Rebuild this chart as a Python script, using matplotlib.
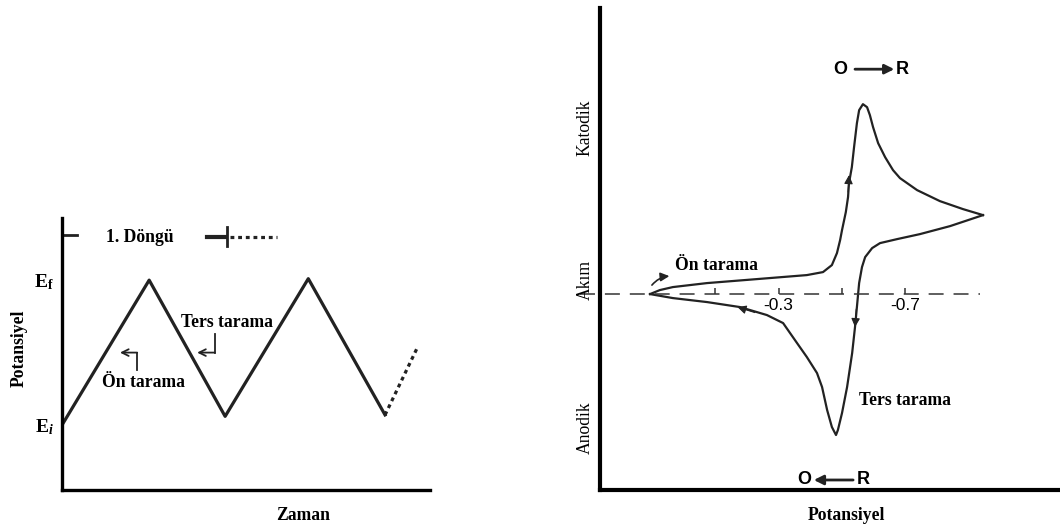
import matplotlib
matplotlib.use('Agg')
import matplotlib.pyplot as plt

plt.rcParams['font.family'] = ['Liberation Serif', 'DejaVu Serif']
plt.rcParams['mathtext.fontset'] = 'custom'
plt.rcParams['mathtext.rm'] = 'Liberation Serif'
plt.rcParams['mathtext.bf'] = 'Liberation Serif:bold'
plt.rcParams['mathtext.it'] = 'Liberation Serif:bold:italic'

# left panel: triangular potential sweep vs. time
t_sweep = [0, 1.09, 2.04, 3.08, 4.04]
E_sweep = [0, 1.0, 0.06, 1.01, 0.07]
t_next = [4.04, 4.44]          # start of the next cycle (dotted)
E_next = [0.07, 0.53]
E_levels = [0, 1.0]
E_labels = [r'$\mathbf{E}_{i}$', r'$\mathbf{E}_{\mathbf{f}}$']

# right panel: cyclic voltammogram (potential in V, current arbitrary)
E_fwd = [0.106, 0.075, 0.034, -0.074, -0.232, -0.389, -0.440, -0.468,
         -0.484, -0.494, -0.500, -0.512, -0.519, -0.522, -0.531, -0.538,
         -0.547, -0.554, -0.566, -0.579, -0.588, -0.598, -0.614, -0.636,
         -0.661, -0.683, -0.737, -0.809, -0.882, -0.945]
i_fwd = [0.0, 0.4, 0.7, 1.1, 1.5, 1.9, 2.2, 2.9,
         4.1, 5.4, 6.4, 8.2, 9.7, 11.1, 12.7, 14.7,
         17.1, 18.4, 19.0, 18.7, 17.9, 16.7, 15.1, 13.7,
         12.4, 11.6, 10.4, 9.3, 8.5, 7.9]
E_rev = [-0.945, -0.841, -0.746, -0.674, -0.620, -0.595, -0.573, -0.563,
         -0.554, -0.547, -0.541, -0.532, -0.516, -0.500, -0.487, -0.481,
         -0.468, -0.453, -0.437, -0.421, -0.389, -0.358, -0.336, -0.314,
         -0.263, -0.178, -0.074, 0.034, 0.106]
i_rev = [7.9, 6.8, 6.0, 5.5, 5.1, 4.6, 3.7, 2.7,
         1.1, -1.3, -3.3, -5.9, -9.3, -11.9, -13.6, -14.1,
         -13.3, -11.6, -9.3, -7.9, -6.3, -4.9, -3.9, -2.9,
         -2.1, -1.3, -0.8, -0.4, 0.0]
E_ticks = [-0.1, -0.3, -0.5, -0.7]
E_tick_labels = ['', '-0.3', '', '-0.7']

fig = plt.figure(figsize=(10.6, 5.3), dpi=100)
bold = dict(fontweight='bold', fontsize=12.7)
ink = '#222222'

# ---- left panel ----
ax1 = fig.add_axes([0.0585, 0.0755, 0.347, 0.513])
ax1.plot(t_sweep, E_sweep, color=ink, lw=2.3, solid_joinstyle='round')
ax1.plot(t_next, E_next, color=ink, lw=2.3, ls=(0, (1.2, 1.2)))
ax1.set_xlim(0, 4.6)
ax1.set_ylim(-0.448, 1.428)
for s in ['top', 'right']:
    ax1.spines[s].set_visible(False)
for s in ['left', 'bottom']:
    ax1.spines[s].set_linewidth(2.4)
ax1.set_xticks([])
ax1.set_yticks(E_levels)
ax1.set_yticklabels(E_labels, fontsize=14)
ax1.tick_params(axis='y', length=0, pad=6)

# one-cycle marker
ax1.plot([0, 0.19], [1.31, 1.31], color=ink, lw=2)
ax1.text(0.975, 1.297, '1. Döngü', ha='center', va='center', **bold)
ax1.plot([1.81, 2.04], [1.30, 1.30], color=ink, lw=3)
ax1.plot([2.06, 2.06], [1.365, 1.235], color=ink, lw=2)
ax1.plot([2.1, 2.69], [1.30, 1.30], color=ink, lw=2.3, ls=(0, (1.2, 1.2)))

ax1.text(2.06, 0.71, 'Ters tarama', ha='center', va='center', **bold)
ax1.text(1.025, 0.297, 'Ön tarama', ha='center', va='center', **bold)

# bent arrows
bent = dict(arrowstyle='->', color=ink, lw=1.3, shrinkA=0, shrinkB=0,
            mutation_scale=12)
ax1.plot([0.94, 0.94], [0.38, 0.50], color=ink, lw=1.3)
ax1.annotate('', xy=(0.725, 0.50), xytext=(0.94, 0.50), arrowprops=bent)
ax1.plot([1.91, 1.91], [0.63, 0.50], color=ink, lw=1.3)
ax1.annotate('', xy=(1.69, 0.50), xytext=(1.91, 0.50), arrowprops=bent)

fig.text(19 / 1060, 1 - 348 / 530, 'Potansiyel', rotation=90,
         ha='center', va='center', **bold)
fig.text(303 / 1060, 1 - 515 / 530, 'Zaman', ha='center', va='center', **bold)

# ---- right panel ----
ax2 = fig.add_axes([0.566, 0.0755, 0.434, 0.909])
ax2.plot(E_fwd, i_fwd, color=ink, lw=1.6, solid_joinstyle='round')
ax2.plot(E_rev, i_rev, color=ink, lw=1.6, solid_joinstyle='round')
ax2.set_xlim(0.264, -1.188)
ax2.set_ylim(-19.6, 28.6)
for s in ['top', 'right']:
    ax2.spines[s].set_visible(False)
for s in ['left', 'bottom']:
    ax2.spines[s].set_linewidth(3)
ax2.set_xticks([])
ax2.set_yticks([])

# zero-current line with potential ticks
ax2.plot([0.327, -0.936], [0, 0], color='#333333', lw=1.1,
         ls=(0, (9.8, 6.5)), clip_on=False)
ax2.vlines(E_ticks, 0, 0.6, color='#333333', lw=1.1)
for e, lab in zip(E_ticks, E_tick_labels):
    if lab:
        ax2.text(e, -1.1, lab, ha='center', va='center', fontsize=12.5,
                 family='Liberation Sans')

# direction arrows on the curve
head = dict(arrowstyle='-|>', color=ink, lw=0.8,
            shrinkA=0, shrinkB=0, mutation_scale=13)
ax2.annotate('', xy=(-0.522, 11.9), xytext=(-0.519, 10.2), arrowprops=head)
ax2.annotate('', xy=(-0.541, -3.3), xytext=(-0.545, -1.5), arrowprops=head)
ax2.annotate('', xy=(-0.170, -1.3), xytext=(-0.225, -1.85), arrowprops=head)
ax2.annotate('', xy=(0.045, 1.8), xytext=(0.10, 0.9),
             arrowprops=dict(head, connectionstyle='arc3,rad=-0.2', lw=1.2))

ax2.text(-0.105, 2.9, 'Ön tarama', ha='center', va='center', **bold)
ax2.text(-0.699, -10.6, 'Ters tarama', ha='center', va='center', **bold)

sans = dict(fontsize=13, fontweight='bold', family='Liberation Sans',
            ha='center', va='center')
ax2.text(-0.494, 22.5, 'O', **sans)
ax2.annotate('', xy=(-0.665, 22.5), xytext=(-0.541, 22.5),
             arrowprops=dict(arrowstyle='-|>', color=ink, lw=2,
                             shrinkA=0, shrinkB=0, mutation_scale=14))
ax2.text(-0.689, 22.5, 'R', **sans)
ax2.text(-0.380, -18.6, 'O', **sans)
ax2.annotate('', xy=(-0.411, -18.6), xytext=(-0.535, -18.6),
             arrowprops=dict(arrowstyle='-|>', color=ink, lw=2,
                             shrinkA=0, shrinkB=0, mutation_scale=14))
ax2.text(-0.566, -18.6, 'R', **sans)

reg = dict(fontsize=12.7, rotation=90, ha='center', va='center')
fig.text(585 / 1060, 1 - 128 / 530, 'Katodik', **reg)
fig.text(585 / 1060, 1 - 280 / 530, 'Akım', **reg)
fig.text(585 / 1060, 1 - 428 / 530, 'Anodik', **reg)
fig.text(846 / 1060, 1 - 515 / 530, 'Potansiyel', ha='center', va='center', **bold)

fig.savefig('out.png', dpi=100)
